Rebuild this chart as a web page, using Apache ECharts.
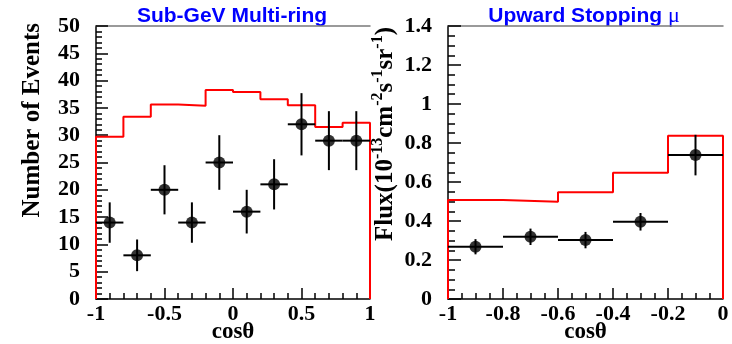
<!DOCTYPE html>
<html><head><meta charset="utf-8">
<script src="https://cdn.jsdelivr.net/npm/echarts@6/dist/echarts.min.js"></script>
<style>html,body{margin:0;padding:0;background:#fff}#c{width:732px;height:344px}</style>
</head><body><div id="c"></div>
<script>
// ---- Sub-GeV Multi-ring ----
const subgevBinEdges = [-1, -0.8, -0.6, -0.4, -0.2, 0, 0.2, 0.4, 0.6, 0.8, 1];
const subgevMC = [29.7, 33.4, 35.6, 35.4, 38.3, 37.9, 36.6, 35.5, 31.5, 32.3];
const subgevX = [-0.9, -0.7, -0.5, -0.3, -0.1, 0.1, 0.3, 0.5, 0.7, 0.9];
const subgevData = [14, 8, 20, 14, 25, 16, 21, 32, 29, 29];
const subgevErr = [3.7, 2.9, 4.5, 3.7, 5.0, 4.0, 4.6, 5.7, 5.4, 5.4];
// ---- Upward stopping mu ----
const upmuBinEdges = [-1, -0.8, -0.6, -0.4, -0.2, 0];
const upmuMC = [0.508, 0.499, 0.547, 0.647, 0.837];
const upmuX = [-0.9, -0.7, -0.5, -0.3, -0.1];
const upmuData = [0.268, 0.319, 0.302, 0.396, 0.738];
const upmuErr = [0.039, 0.042, 0.042, 0.045, 0.104];
const binHalfWidth = 0.1;

const titles = ['Sub-GeV Multi-ring', 'Upward Stopping '];
const xName = 'cosθ';

function histPath(edges, vals) {
  const p = [[edges[0], 0]];
  vals.forEach((v, i) => { p.push([edges[i], v]); p.push([edges[i + 1], v]); });
  p.push([edges[edges.length - 1], 0]);
  return p;
}
function errData(xs, ys, es) { return xs.map((x, i) => [x, ys[i], es[i], binHalfWidth]); }

const serif = 'Liberation Serif';
const labelStyle = { fontFamily: serif, fontWeight: 'bold', fontSize: 22, color: '#000' };
const black = { color: '#000', width: 1.5 };

function xAx(grid, min, max, interval, split) {
  return {
    gridIndex: grid, type: 'value', min: min, max: max, interval: interval, position: 'bottom',
    axisLine: { show: true, onZero: false, lineStyle: black },
    axisTick: { show: true, inside: true, length: 11, lineStyle: black },
    minorTick: { show: true, splitNumber: split, length: 6, lineStyle: black },
    splitLine: { show: false },
    axisLabel: Object.assign({ margin: 4 }, labelStyle),
    name: xName, nameLocation: 'middle', nameGap: 22, nameMoveOverlap: false,
    nameTextStyle: Object.assign({}, labelStyle, { fontSize: 23, verticalAlign: 'top' })
  };
}
function topAx(grid, min, max) {
  return {
    gridIndex: grid, type: 'value', min: min, max: max, position: 'top',
    axisLine: { show: true, onZero: false, lineStyle: { color: '#7a7a7a', width: 1.5 } },
    axisTick: { show: false }, axisLabel: { show: false }, splitLine: { show: false }
  };
}
function yAx(grid, min, max, interval, split, tickLen) {
  return {
    gridIndex: grid, type: 'value', min: min, max: max, interval: interval,
    axisLine: { show: true, onZero: false, lineStyle: black },
    axisTick: { show: true, inside: true, length: tickLen, lineStyle: black },
    minorTick: { show: true, splitNumber: split, length: Math.round(tickLen / 2), lineStyle: black },
    splitLine: { show: false },
    axisLabel: Object.assign({ margin: 16 }, labelStyle)
  };
}
function errRender(params, api) {
  const x = api.value(0), y = api.value(1), e = api.value(2), h = api.value(3);
  const l = api.coord([x - h, y]), r = api.coord([x + h, y]);
  const t = api.coord([x, y + e]), b = api.coord([x, y - e]);
  const st = { stroke: '#000', lineWidth: 2 };
  return { type: 'group', children: [
    { type: 'line', shape: { x1: l[0], y1: l[1], x2: r[0], y2: r[1] }, style: st },
    { type: 'line', shape: { x1: t[0], y1: t[1], x2: b[0], y2: b[1] }, style: st }
  ] };
}

const chart = echarts.init(document.getElementById('c'), null, { renderer: 'canvas' });
chart.setOption({
  animation: false,
  backgroundColor: '#fff',
  grid: [
    { left: 96, top: 26, width: 274, height: 273, outerBoundsMode: 'none', containLabel: false },
    { left: 448, top: 26, width: 275, height: 273, outerBoundsMode: 'none', containLabel: false }
  ],
  xAxis: [xAx(0, -1, 1, 0.5, 5), xAx(1, -1, 0, 0.2, 4), topAx(0, -1, 1), topAx(1, -1, 0)],
  yAxis: [yAx(0, 0, 50, 5, 5, 12), yAx(1, 0, 1.4, 0.2, 4, 13)],
  graphic: [
    { type: 'text', x: 232, y: 16, silent: true,
      style: { text: titles[0], align: 'center', verticalAlign: 'middle',
        font: 'bold 21px "Liberation Sans"', fill: '#0000ff' } },
    { type: 'text', x: 584, y: 16, silent: true,
      style: { text: '{a|' + titles[1] + '}{m|μ}', align: 'center', verticalAlign: 'middle',
        rich: { a: { fontFamily: 'Liberation Sans', fontWeight: 'bold', fontSize: 21, fill: '#0000ff' },
                m: { fontFamily: serif, fontSize: 22, fill: '#0000ff' } } } },
    { type: 'text', x: 33, y: 23, rotation: Math.PI / 2, silent: true,
      style: { text: 'Number of Events', align: 'right', verticalAlign: 'middle',
        font: 'bold 25px "Liberation Serif"', fill: '#000' } },
    { type: 'text', x: 384, y: 27, rotation: Math.PI / 2, silent: true,
      style: { text: '{n|Flux(10}{s|-13}{n|cm}{s|-2}{n|s}{s|-1}{n|sr}{s|-1}{n|)}',
        align: 'right', verticalAlign: 'middle',
        rich: { n: { fontFamily: serif, fontWeight: 'bold', fontSize: 25, fill: '#000', padding: [3, 0, 0, 0], verticalAlign: 'bottom' },
                s: { fontFamily: serif, fontWeight: 'bold', fontSize: 16, fill: '#000', verticalAlign: 'top' } } } }
  ],
  series: [
    { type: 'line', xAxisIndex: 0, yAxisIndex: 0, data: histPath(subgevBinEdges, subgevMC),
      showSymbol: false, clip: false, z: 5, silent: true, lineStyle: { color: '#ff0000', width: 2 } },
    { type: 'custom', xAxisIndex: 0, yAxisIndex: 0, renderItem: errRender, z: 6, silent: true,
      data: errData(subgevX, subgevData, subgevErr) },
    { type: 'scatter', xAxisIndex: 0, yAxisIndex: 0, symbolSize: 12, z: 7, silent: true,
      itemStyle: { color: '#000' }, data: subgevX.map((x, i) => [x, subgevData[i]]) },
    { type: 'line', xAxisIndex: 1, yAxisIndex: 1, data: histPath(upmuBinEdges, upmuMC),
      showSymbol: false, clip: false, z: 5, silent: true, lineStyle: { color: '#ff0000', width: 2 } },
    { type: 'custom', xAxisIndex: 1, yAxisIndex: 1, renderItem: errRender, z: 6, silent: true,
      data: errData(upmuX, upmuData, upmuErr) },
    { type: 'scatter', xAxisIndex: 1, yAxisIndex: 1, symbolSize: 12, z: 7, silent: true,
      itemStyle: { color: '#000' }, data: upmuX.map((x, i) => [x, upmuData[i]]) }
  ]
});
</script></body></html>
